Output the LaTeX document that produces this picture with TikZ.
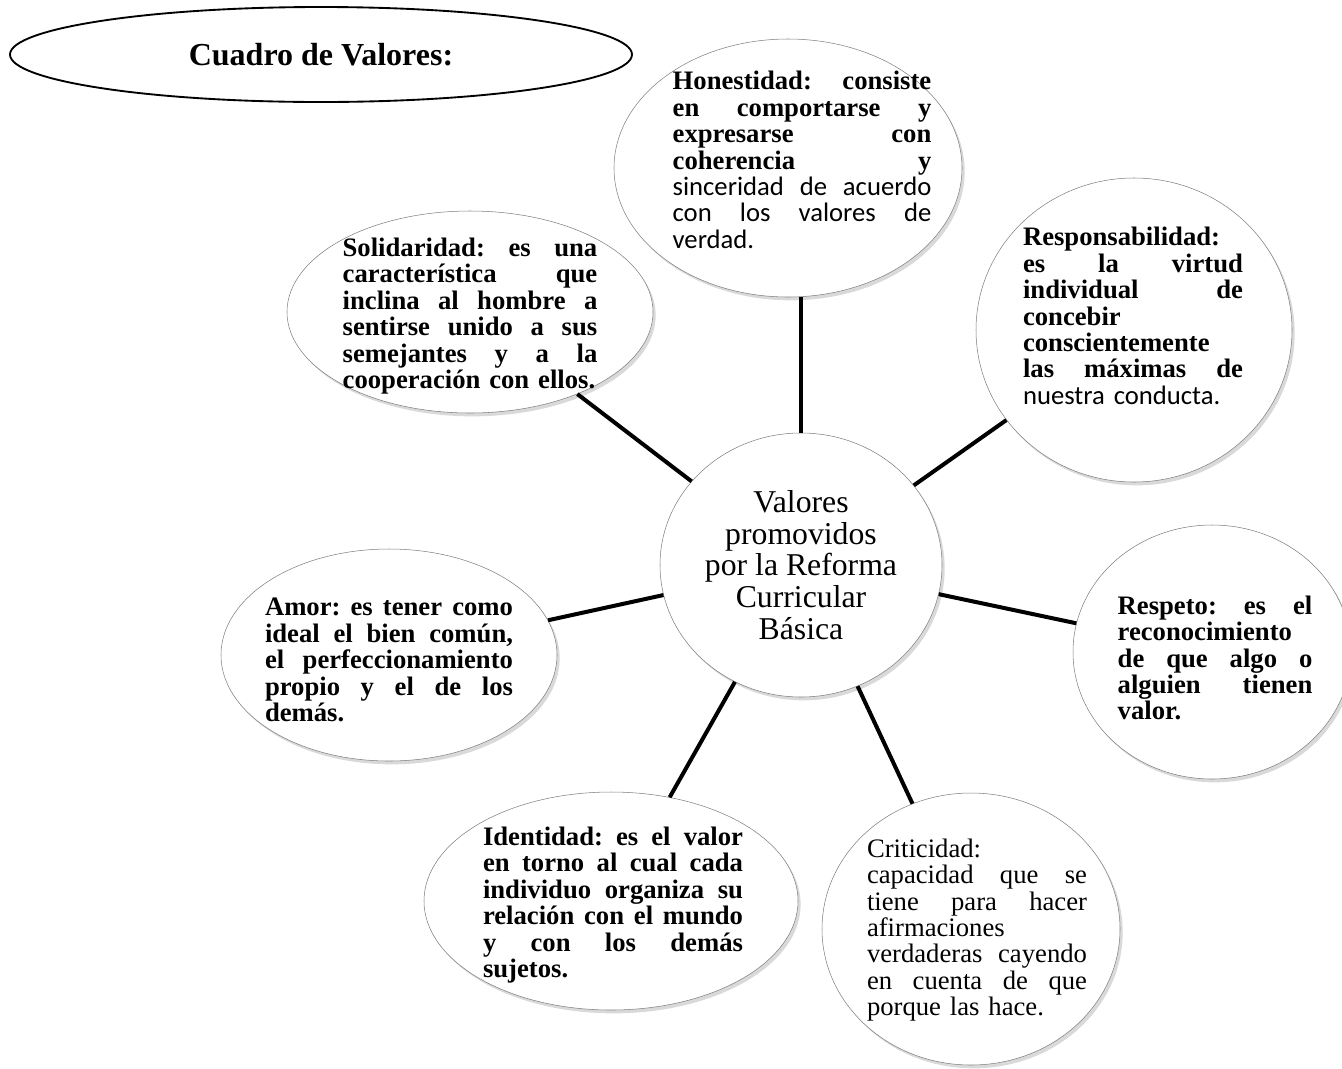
\documentclass[tikz,border=0pt]{standalone}
\usepackage{fontspec}
\setmainfont{Liberation Serif}
\newfontfamily\calibfont{Carlito}
\usetikzlibrary{shapes,shadows,positioning}
\tikzset{
     bubble/.style={ellipse, draw=black!50, thin, fill=white, inner sep=0pt,
        drop shadow={shadow xshift=2pt, shadow yshift=-2.5pt, opacity=0.25, fill=black!60}},
     note/.style={align=left, inner sep=0pt, font=\fontsize{20}{19.8}\selectfont\bfseries},
     plain note/.style={note, font=\fontsize{20}{19.8}\selectfont},
     link/.style={line width=3pt, black},
     heading/.style={ellipse, draw=black, line width=1.4pt, fill=white, inner sep=0pt,
        font=\fontsize{24}{24}\selectfont\bfseries},
    }
\newcommand{\justline}[1]{\leavevmode\hbox to \hsize{\spaceskip=0.25em plus 1fil\relax
    \xspaceskip=\spaceskip #1}}

\begin{document}
\begin{tikzpicture}[x=0.75pt, y=-0.75pt]
    \useasboundingbox (0,0) rectangle (1342,1068);

    \node [heading, minimum width=466.5pt, minimum height=71.25pt] (head) at (321,54.5) {Cuadro de Valores:};

    \node [bubble, minimum width=211.5pt, minimum height=198pt, align=center,
           font=\fontsize{23.8}{23.8}\selectfont] (cen) at (801,565)
          {Valores\\promovidos\\por la Reforma\\Curricular\\Básica};

    \node [bubble, minimum width=261pt, minimum height=193.5pt] (hon) at (788,168) {};
    \node [bubble, minimum width=237pt, minimum height=228pt] (resp) at (1134,330) {};
    \node [bubble, minimum width=274.5pt, minimum height=151.5pt] (sol) at (470,312) {};
    \node [bubble, minimum width=208.5pt, minimum height=190.5pt] (respeto) at (1212,652) {};
    \node [bubble, minimum width=252pt, minimum height=159pt] (amor) at (389,655) {};
    \node [bubble, minimum width=280.5pt, minimum height=163.5pt] (ident) at (611,901) {};
    \node [bubble, minimum width=223.5pt, minimum height=204pt] (crit) at (971,929) {};

    \node [note, text width=194pt] (hontxt) at (802,160) {
        \justline{Honestidad: consiste}\\
        \justline{en comportarse y}\\
        \justline{expresarse con}\\
        \justline{coherencia y}\\
        \justline{\calibfont\mdseries sinceridad de acuerdo}\\
        \justline{\calibfont\mdseries con los valores de}\\
        {\calibfont\mdseries verdad.}};
    \node [note, text width=165pt] (resptxt) at (1133,316) {
        Responsabilidad:\\
        \justline{es la virtud}\\
        \justline{individual de}\\
        concebir\\
        conscientemente\\
        \justline{las máximas de}\\
        {\calibfont\mdseries nuestra conducta.}};
    \node [note, text width=191pt] (soltxt) at (470,316) {
        \justline{Solidaridad: es una}\\
        \justline{característica que}\\
        \justline{inclina al hombre a}\\
        \justline{sentirse unido a sus}\\
        \justline{semejantes y a la}\\
        cooperación con ellos.};
    \node [note, text width=146pt] (respetotxt) at (1215,658) {
        \justline{Respeto: es el}\\
        reconocimiento\\
        \justline{de que algo o}\\
        \justline{alguien tienen}\\
        valor.};
    \node [note, text width=186pt] (amortxt) at (389,660) {
        \justline{Amor: es tener como}\\
        \justline{ideal el bien común,}\\
        \justline{el perfeccionamiento}\\
        \justline{propio y el de los}\\
        demás.};
    \node [note, text width=195pt] (identtxt) at (613,905) {
        \justline{Identidad: es el valor}\\
        \justline{en torno al cual cada}\\
        \justline{individuo organiza su}\\
        \justline{relación con el mundo}\\
        \justline{y con los demás}\\
        sujetos.};
    \node [plain note, text width=165pt] (crittxt) at (977,930) {
        Criticidad:\\
        \justline{capacidad que se}\\
        \justline{tiene para hacer}\\
        afirmaciones\\
        \justline{verdaderas cayendo}\\
        \justline{en cuenta de que}\\
        porque las hace.};

    \path[link]
        (cen) edge (cen |- hon.south)
        (cen) edge (resp)
        (cen) edge (respeto)
        (cen) edge (crit)
        (cen) edge (ident)
        (cen) edge (amor)
        (cen) edge (sol);
\end{tikzpicture}
\end{document}
